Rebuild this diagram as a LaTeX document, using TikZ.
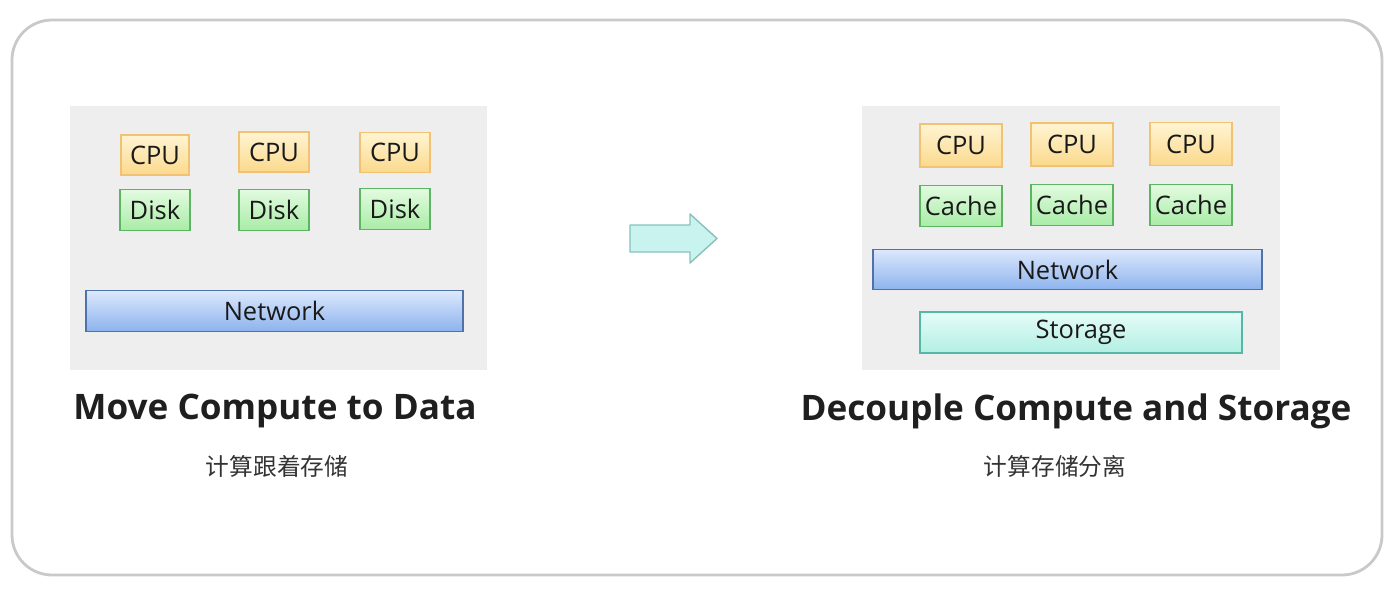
\documentclass[tikz,border=0pt]{standalone}
\usepackage{fontspec}
\setmainfont{Open Sans}
\newfontfamily\cjk{Noto Sans CJK SC}
\usepackage{tikz}
\usetikzlibrary{positioning}

\definecolor{cpuTop}{HTML}{FFF4D2}
\definecolor{cpuBot}{HTML}{FBD98C}
\definecolor{cpuLine}{HTML}{F2C274}
\definecolor{diskTop}{HTML}{E2FBE0}
\definecolor{diskBot}{HTML}{A9ECA6}
\definecolor{diskLine}{HTML}{5DB462}
\definecolor{netTop}{HTML}{DCE8FC}
\definecolor{netBot}{HTML}{8DB3EE}
\definecolor{netLine}{HTML}{4F72A8}
\definecolor{stoTop}{HTML}{E6FCF8}
\definecolor{stoBot}{HTML}{B2EFE4}
\definecolor{stoLine}{HTML}{55B8A6}
\definecolor{arrFill}{HTML}{C9F3EE}
\definecolor{arrLine}{HTML}{86C2BB}
\definecolor{panelFill}{HTML}{EEEEEE}
\definecolor{frameLine}{HTML}{C9C9C9}

\begin{document}
\begin{tikzpicture}[
    x=0.02cm, y=-0.02cm,
    node distance=0.3cm,
    unit/.style={rectangle, line width=0.7pt, inner sep=0pt, font=\fontsize{14.5}{16}\selectfont, text=black!90},
    cpubox/.style={unit, draw=cpuLine, top color=cpuTop, bottom color=cpuBot},
    diskbox/.style={unit, draw=diskLine, top color=diskTop, bottom color=diskBot},
    netbox/.style={unit, draw=netLine, top color=netTop, bottom color=netBot, minimum height=0.81cm},
    storebox/.style={unit, draw=stoLine, top color=stoTop, bottom color=stoBot, minimum height=0.82cm},
    panel/.style={rectangle, fill=panelFill, inner sep=0pt, minimum width=8.36cm, minimum height=5.28cm},
    heading/.style={font=\fontsize{20}{24}\selectfont\bfseries, text=black!88},
    subheading/.style={font=\cjk\fontsize{13.5}{16}\selectfont, text=black!80},
]
\useasboundingbox (0,0) rectangle (1400,592);
\draw[frameLine, line width=1.6pt, rounded corners=0.8cm] (12,20) rectangle (1382,575);

% left: compute next to data
\node[panel] (lpanel) at (278.5,238) {};
\node[cpubox, minimum width=1.36cm, minimum height=0.8cm] (lcpu1) at (155,155) {CPU};
\node[cpubox, minimum width=1.4cm, minimum height=0.8cm] (lcpu2) at (274,152) {CPU};
\node[cpubox, minimum width=1.4cm, minimum height=0.8cm] (lcpu3) at (395,152.5) {CPU};
\node[diskbox, minimum width=1.4cm, minimum height=0.82cm, below=0.27cm of lcpu1] (ldisk1) {Disk};
\node[diskbox, minimum width=1.4cm, minimum height=0.82cm, below=0.32cm of lcpu2] (ldisk2) {Disk};
\node[diskbox, minimum width=1.4cm, minimum height=0.82cm, below=0.3cm of lcpu3] (ldisk3) {Disk};
\node[netbox, minimum width=7.54cm] (lnet) at (274.5,311) {Network};
\node[heading] (ltitle) at (275,411) {Move Compute to Data};
\node[subheading] (lsub) at (277,466) {计算跟着存储};

% arrow
\draw[arrLine, fill=arrFill, line width=0.8pt, line join=round]
    (630,225) -- (690,225) -- (690,214) -- (717,238.5) -- (690,263) -- (690,252) -- (630,252) -- cycle;

% right: compute and storage apart
\node[panel] (rpanel) at (1071,238) {};
\node[cpubox, minimum width=1.64cm, minimum height=0.86cm] (rcpu1) at (961,145.5) {CPU};
\node[cpubox, minimum width=1.64cm, minimum height=0.86cm] (rcpu2) at (1072,144.5) {CPU};
\node[cpubox, minimum width=1.64cm, minimum height=0.86cm] (rcpu3) at (1191,144) {CPU};
\node[diskbox, minimum width=1.64cm, minimum height=0.82cm, below=0.34cm of rcpu1] (rcache1) {Cache};
\node[diskbox, minimum width=1.64cm, minimum height=0.82cm, below=0.34cm of rcpu2] (rcache2) {Cache};
\node[diskbox, minimum width=1.64cm, minimum height=0.82cm, below=0.36cm of rcpu3] (rcache3) {Cache};
\node[netbox, minimum width=7.78cm] (rnet) at (1067.5,269.5) {Network};
\node[storebox, minimum width=6.44cm] (rstore) at (1081,332.5) {Storage};
\node[heading] (rtitle) at (1076,411) {Decouple Compute and Storage};
\node[subheading] (rsub) at (1055,466) {计算存储分离};
\end{tikzpicture}
\end{document}
